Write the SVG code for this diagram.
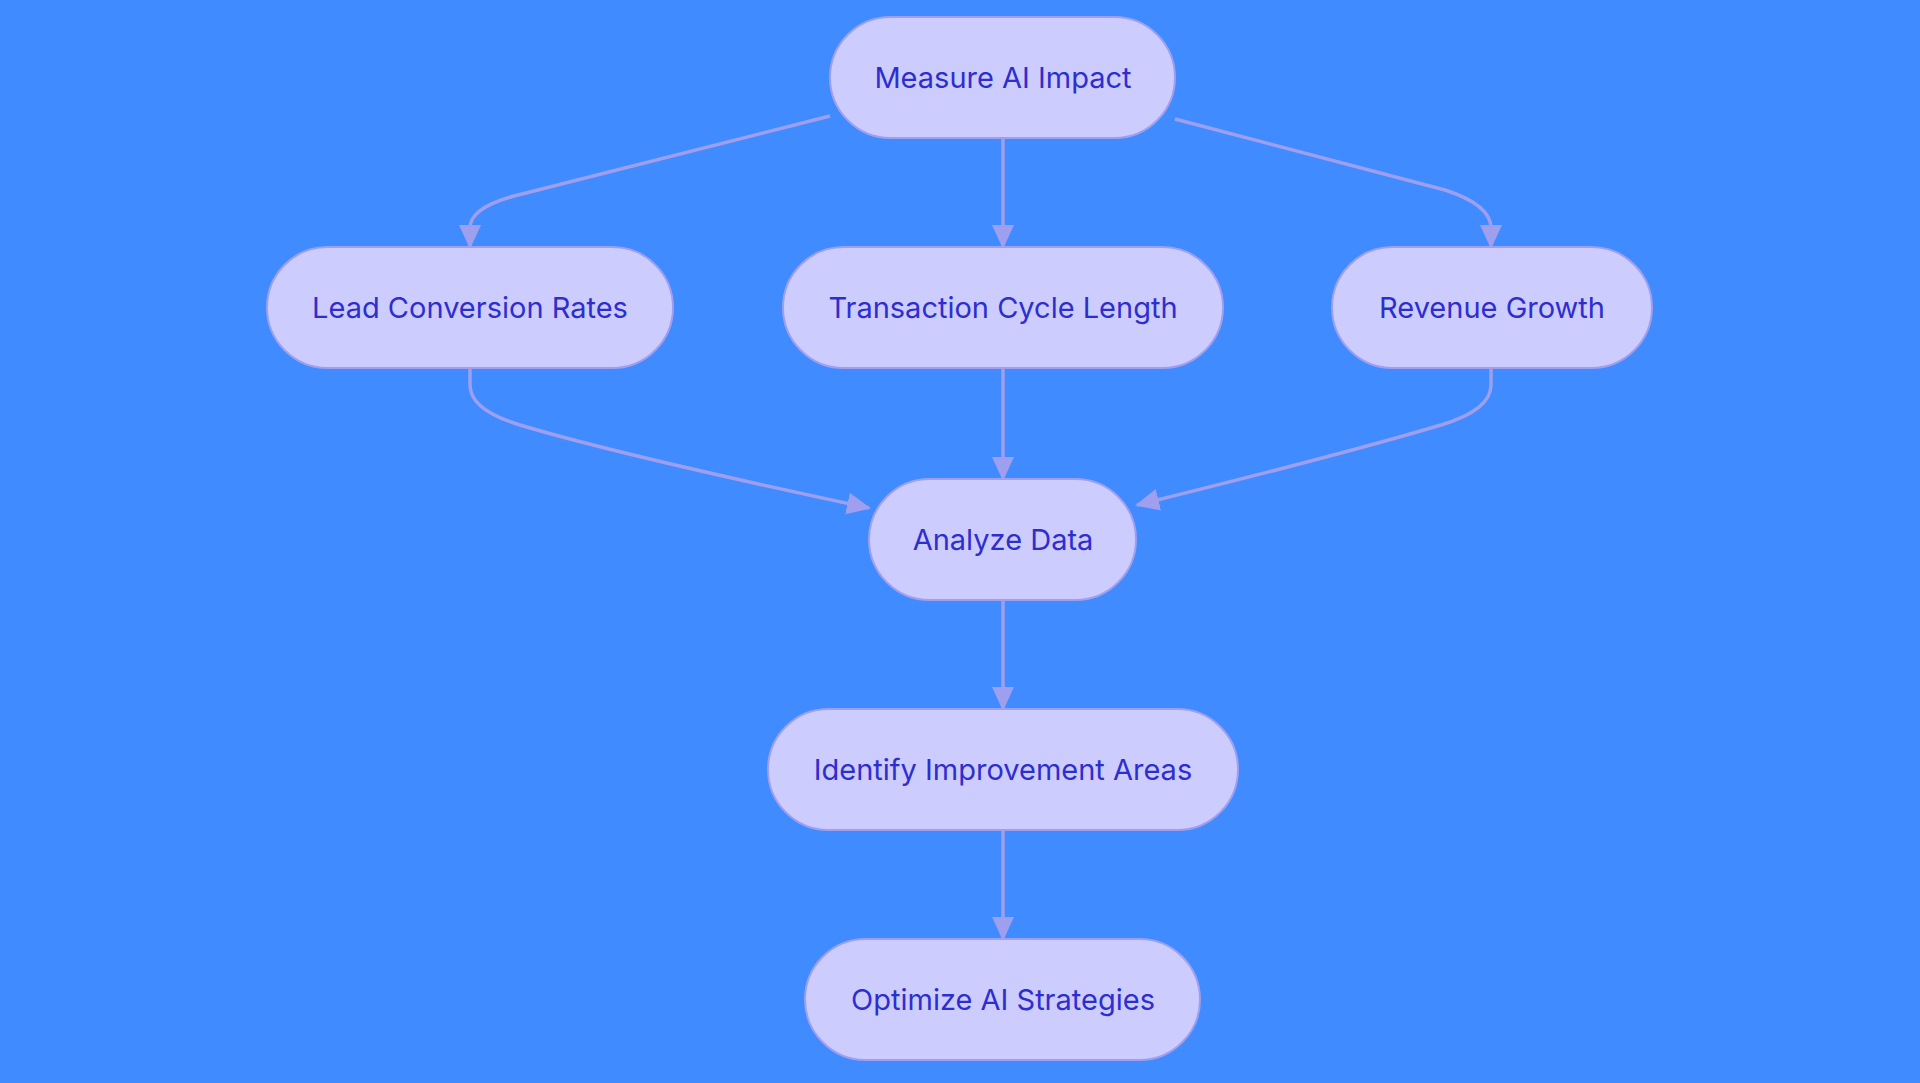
<svg xmlns="http://www.w3.org/2000/svg" width="1920" height="1083" viewBox="0 0 1920 1083">
<style>
.n rect{fill:#ccccff;stroke:#9f9fef;stroke-width:2}
.n text{font-family:Inter,"Noto Sans",sans-serif;font-size:29px;fill:#2e2ecf;text-anchor:middle;dominant-baseline:central}
.e path{fill:none;stroke:#9f9fef;stroke-width:3.5}
</style>
<defs>
<marker id="a" markerUnits="userSpaceOnUse" markerWidth="24" markerHeight="24" viewBox="0 0 24 24" refX="22" refY="12" orient="auto">
<path d="M0,1 L24,12 L0,23 Z" fill="#9f9fef"/>
</marker>
</defs>
<rect width="1920" height="1083" fill="#3f8bff"/>
<g class="e">
<path d="M830,116 L514,196 Q470,208 470,228 L470,247" marker-end="url(#a)"/>
<path d="M1175,119 L1445,190 Q1491,205 1491,228 L1491,247" marker-end="url(#a)"/>
<path d="M1003,138 L1003,247" marker-end="url(#a)"/>
<path d="M470,369 L470,385 Q470,410 520,425 Q620,455 869,508" marker-end="url(#a)"/>
<path d="M1491,369 L1491,385 Q1491,410 1441,425 Q1340,455 1137,505" marker-end="url(#a)"/>
<path d="M1003,369 L1003,479" marker-end="url(#a)"/>
<path d="M1003,600 L1003,709" marker-end="url(#a)"/>
<path d="M1003,830 L1003,939" marker-end="url(#a)"/>
</g>
<g id="measure" class="n"><rect x="830" y="17" width="345" height="121" rx="60.5"/><text x="1003" y="77">Measure AI Impact</text></g>
<g id="lead" class="n"><rect x="267" y="247" width="406" height="121" rx="60.5"/><text x="470" y="307">Lead Conversion Rates</text></g>
<g id="transaction" class="n"><rect x="783" y="247" width="440" height="121" rx="60.5"/><text x="1003" y="307">Transaction Cycle Length</text></g>
<g id="revenue" class="n"><rect x="1332" y="247" width="320" height="121" rx="60.5"/><text x="1492" y="307">Revenue Growth</text></g>
<g id="analyze" class="n"><rect x="869" y="479" width="267" height="121" rx="60.5"/><text x="1003" y="539">Analyze Data</text></g>
<g id="identify" class="n"><rect x="768" y="709" width="470" height="121" rx="60.5"/><text x="1003" y="769">Identify Improvement Areas</text></g>
<g id="optimize" class="n"><rect x="805" y="939" width="395" height="121" rx="60.5"/><text x="1003" y="999">Optimize AI Strategies</text></g>
</svg>
